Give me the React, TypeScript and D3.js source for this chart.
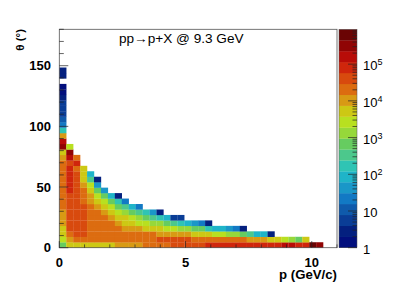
import React from "react";
import * as d3 from "d3";

const W = 397;
const H = 292;
const margin = { top: 29.3, right: 60, bottom: 44.3, left: 59.3 };

// counts per (p, theta) bin, one list per theta bin starting at theta = 0, left to right in p
const row00 = [650,5100,5100,5100,5100,5100,5100,5100,10000,10000,10000,10000,20000,20000,20000,20000,40000,40000,40000,40000,40000,78000,78000,78000,78000,78000,78000,78000,78000,78000,78000,78000,155000,155000,78000,78000,600000,300000];
const row01 = [2600,10000,20000,20000,20000,20000,20000,20000,20000,20000,20000,20000,20000,20000,40000,40000,40000,40000,40000,20000,20000,20000,20000,20000,20000,20000,20000,10000,10000,10000,5100,5100,2600,1300,650,5100];
const row02 = [5100,20000,40000,40000,20000,20000,20000,20000,20000,20000,20000,20000,20000,20000,10000,10000,10000,10000,10000,5100,5100,5100,2600,2600,1300,1300,650,330,85,85,2.8];
const row03 = [5100,40000,40000,40000,20000,20000,20000,20000,20000,10000,10000,10000,5100,5100,5100,2600,2600,1300,1300,650,650,170,85,85,43,22,2.8];
const row04 = [10000,40000,40000,40000,20000,20000,20000,20000,10000,5100,5100,2600,2600,1300,1300,650,330,170,85,43,22,2.8];
const row05 = [10000,40000,40000,40000,20000,20000,20000,10000,5100,5100,2600,1300,650,330,170,85,5.5,5.5];
const row06 = [10000,40000,40000,40000,20000,20000,10000,5100,2600,1300,650,330,170,43,2.8];
const row07 = [20000,40000,40000,40000,20000,10000,5100,2600,650,330,85,22];
const row08 = [20000,40000,40000,20000,10000,5100,2600,650,170,22];
const row09 = [20000,40000,40000,20000,10000,2600,650,85,2.8];
const row10 = [20000,78000,40000,20000,5100,650,43];
const row11 = [20000,78000,40000,10000,2600,43];
const row12 = [20000,78000,40000,5100,330,2.8];
const row13 = [20000,78000,40000,5100,85];
const row14 = [20000,78000,20000,5100];
const row15 = [20000,40000,78000];
const row16 = [10000,155000,20000];
const row17 = [5100,300000];
const row18 = [300000,2600];
const row19 = [155000];
const row20 = [10000];
const row21 = [170];
const row22 = [22];
const row23 = [11];
const row24 = [7];
const row25 = [5.5];
const row26 = [5.5];
const row27 = [2.8];
const row28 = [1.4];
const row29 = [1.4];
const row30: number[] = [];
const row31 = [2.8];
const row32 = [2.8];

const rows = [
  row00, row01, row02, row03, row04, row05, row06, row07, row08, row09, row10,
  row11, row12, row13, row14, row15, row16, row17, row18, row19, row20, row21,
  row22, row23, row24, row25, row26, row27, row28, row29, row30, row31, row32,
];

const palette = [
  "#020f7d", "#04207f", "#0a3d96", "#0f5aab", "#1279c4", "#1a97c8", "#1fb4c8",
  "#2fc4b4", "#4cc88c", "#66cc60", "#96d83a", "#b8e020", "#cdc814", "#d89a14",
  "#dc6c10", "#d84a0e", "#cf260c", "#b80c08", "#900404", "#6a0404",
];

const xTickLabels = [0, 5, 10];
const yTickLabels = [0, 50, 100, 150];
const xDomain: [number, number] = [0, 11];
const yDomain: [number, number] = [0, 180];
const zDomain: [number, number] = [1, 891000];
const binsPerAxis = 40;

const x = d3.scaleLinear().domain(xDomain).range([margin.left, W - margin.right]);
const y = d3.scaleLinear().domain(yDomain).range([H - margin.bottom, margin.top]);
const z = d3.scaleLog().domain(zDomain).range([H - margin.bottom, margin.top]);
const color = d3
  .scaleQuantize<string>()
  .domain([0, Math.log10(zDomain[1])])
  .range(palette);

const dp = (xDomain[1] - xDomain[0]) / binsPerAxis;
const dTheta = (yDomain[1] - yDomain[0]) / binsPerAxis;

const barX0 = 339;
const barX1 = 357;
const font = "'Liberation Sans', Arial, sans-serif";

const zTicks = z.ticks().filter((t) => t >= 1 && t <= zDomain[1]);
const isDecade = (t: number) => Math.abs(Math.log10(t) - Math.round(Math.log10(t))) < 1e-6;

export default function App() {
  return (
    <svg
      width={W}
      height={H}
      style={{ position: "absolute", left: 0, top: 0, background: "#fff" }}
      fontFamily={font}
    >
      {rows.map((row, r) =>
        row.map((v, c) => (
          <rect
            key={`${r}-${c}`}
            x={x(c * dp)}
            y={y((r + 1) * dTheta)}
            width={x(dp) - x(0) + 0.2}
            height={y(0) - y(dTheta) + 0.2}
            fill={color(Math.log10(v))}
          />
        ))
      )}

      <rect
        x={x.range()[0]}
        y={margin.top}
        width={x.range()[1] - x.range()[0]}
        height={y.range()[0] - margin.top}
        fill="none"
        stroke="#555"
        strokeWidth={0.8}
      />

      {d3.range(0, 12).map((t) => (
        <line
          key={t}
          x1={x(t)}
          x2={x(t)}
          y1={y(0)}
          y2={y(0) - (t % 5 === 0 ? 6.6 : 3.3)}
          stroke="#222"
          strokeWidth={0.7}
        />
      ))}
      {d3.range(0, 181, 10).map((t) => (
        <line
          key={t}
          x1={x(0)}
          x2={x(0) + (t % 50 === 0 ? 9 : 4.5)}
          y1={y(t)}
          y2={y(t)}
          stroke="#222"
          strokeWidth={0.7}
        />
      ))}

      {xTickLabels.map((t) => (
        <text key={t} x={x(t)} y={266.5} fontSize={13} fontWeight="bold" textAnchor="middle">
          {t}
        </text>
      ))}
      {yTickLabels.map((t) => (
        <text key={t} x={51} y={y(t) + 4.5} fontSize={13} fontWeight="bold" textAnchor="end">
          {t}
        </text>
      ))}

      <text x={337} y={279} fontSize={13.2} fontWeight="bold" textAnchor="end">
        p (GeV/c)
      </text>
      <text
        transform="translate(24,29) rotate(-90)"
        fontSize={11.5}
        fontWeight="bold"
        textAnchor="end"
      >
        θ (°)
      </text>

      <text x={119} y={43} fontSize={13.6}>
        pp→p+X @ 9.3 GeV
      </text>

      {palette.map((c, i) => {
        const step = Math.log10(zDomain[1]) / palette.length;
        const y1 = z(Math.pow(10, i * step));
        const y0 = z(Math.pow(10, (i + 1) * step));
        return <rect key={c} x={barX0} y={y0} width={barX1 - barX0} height={y1 - y0 + 0.2} fill={c} />;
      })}
      <rect
        x={barX0}
        y={margin.top}
        width={barX1 - barX0}
        height={y.range()[0] - margin.top}
        fill="none"
        stroke="#555"
        strokeWidth={0.5}
      />
      {zTicks.map((t) => (
        <line
          key={t}
          x1={barX1}
          x2={barX1 - (isDecade(t) ? 9 : 4.5)}
          y1={z(t)}
          y2={z(t)}
          stroke="#222"
          strokeWidth={0.7}
        />
      ))}
      {zTicks.filter(isDecade).map((t) => {
        const e = Math.round(Math.log10(t));
        return (
          <text key={t} x={363} y={z(t) + 6} fontSize={13}>
            {e === 0 ? "1" : "10"}
            {e > 1 && (
              <tspan dy={-5} fontSize={9}>
                {e}
              </tspan>
            )}
          </text>
        );
      })}
    </svg>
  );
}
